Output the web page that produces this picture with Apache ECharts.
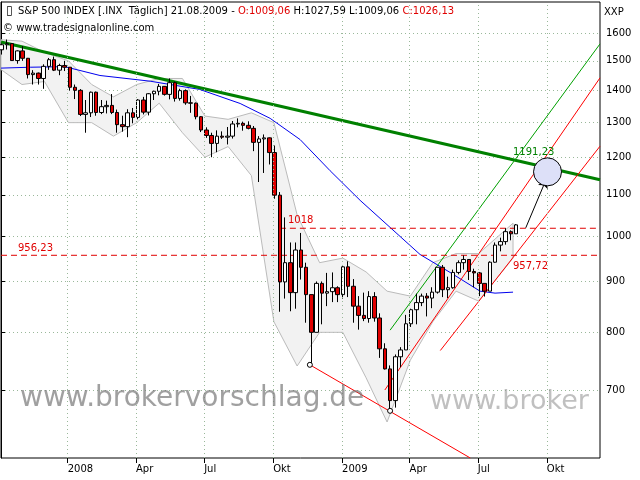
<!DOCTYPE html>
<html><head><meta charset="utf-8">
<script src="https://cdn.jsdelivr.net/npm/echarts@6/dist/echarts.min.js"></script>
<style>html,body{margin:0;padding:0;background:#fff}#c{width:640px;height:480px}</style>
</head><body><div id="c"></div>
<script>
const startDate = '2007-10-05';
const closes = [1557,1561,1501,1535,1509,1453,1458,1440,1481,1504,1468,1484,1478,
1411,1401,1325,1330,1395,1331,1349,1353,1331,1294,1288,1330,1316,1370,1332,1390,1398,1414,1388,1426,1375,1400,1361,1360,1318,1278,1262,1239,1260,1257,1260,1296,1298,1292,1283,1242,1252,1255,1213,1099,899,940,877,968,930,873,800,896,876,879,887,873,
931,890,850,832,826,869,827,770,735,683,756,768,816,843,857,870,866,878,930,883,887,919,940,947,921,918,896,880,941,979,987,1010,1005,1026];
const highs = [1562,1576,1563,1537,1552,1510,1468,1460,1488,1510,1515,1490,1500,
1472,1420,1405,1370,1397,1397,1370,1368,1389,1340,1321,1341,1345,1373,1380,1392,1400,1422,1415,1440,1430,1406,1404,1383,1362,1320,1286,1270,1277,1274,1287,1305,1313,1303,1304,1290,1260,1265,1256,1233,1107,1044,985,985,1007,940,873,900,900,918,919,890,
935,943,905,870,877,880,878,836,780,741,760,773,833,845,875,875,876,888,930,935,910,925,945,956,946,927,920,896,943,985,996,1018,1013,1028];
const lows = [1522,1540,1500,1490,1500,1440,1420,1420,1406,1469,1465,1451,1465,
1400,1373,1320,1270,1317,1321,1326,1328,1326,1270,1273,1257,1298,1310,1325,1322,1370,1385,1384,1372,1365,1368,1355,1330,1310,1272,1255,1200,1214,1252,1236,1253,1286,1276,1280,1217,1133,1157,1180,1090,839,865,840,845,904,818,742,815,815,850,858,858,
865,868,818,805,821,818,820,754,734,667,672,738,770,810,815,850,830,846,875,868,866,885,915,925,903,888,870,869,880,940,965,980,990,1008];
const firstOpen = 1539;
const maDays = [0,39,85,132,199,265,319,359,399,439,479,519,559,599,639,659,683];
const maVals = [1475,1478,1480,1450,1431,1404,1359,1313,1250,1163,1086,1020,958,919,880,876,878];
const bandDays = [0,28,58,90,121,150,181,211,242,272,303,334,364,395,425,456,487,515,546,576,607,637,683];
const bandUp = [1575,1570,1530,1500,1420,1380,1420,1440,1440,1320,1310,1330,1300,1050,940,950,920,880,870,940,960,960,1030];
const bandLo = [1470,1420,1430,1300,1300,1260,1300,1360,1270,1200,1230,1150,820,740,800,800,720,650,750,820,880,860,950];
const greenTrend = [[0,1567],[799,1139]];
const greenThin = [[519,804],[799,1560]];
const redDown = [[412,742],[626,598]];
const redMid = [[512,700],[799,1442]];
const redRight = [[586,767],[799,1231]];
const level1018 = [[372,1018],[799,1018]];
const level956 = [[0,956.23],[799,956.23]];
const arrowLine = [[700,1019],[727,1139]];
const target = [729,1160];
const lowMarks = [[412,742],[519,667]];
const yTicks = [700,800,900,1000,1100,1200,1300,1400,1500,1600];
const xTickDays = [89,180,271,363,455,545,636,728];
const xTickLabels = ['2008','Apr','Jul','Okt','2009','Apr','Jul','Okt'];

const L = Math.log;
const t0 = Date.UTC(2007,9,4);
const s0 = Date.parse(startDate+'T00:00:00Z');
let prev = firstOpen;
const candles = closes.map((c,i)=>{
  const d = (s0 + i*7*86400000 - t0)/86400000;
  const o = prev; prev = c;
  const lo = Math.min(lows[i],o,c), hi = Math.max(highs[i],o,c);
  return [d, L(o), L(c), L(lo), L(hi)];
});
const lg = a => a.map(p=>[p[0], L(p[1])]);
const lineS = (data,color,width,type) => ({type:'line',data:lg(data),symbol:'none',silent:true,lineStyle:{color,width,type:type||'solid'},z:3});
const bandData = bandDays.map((d,i)=>[d,L(bandUp[i]),L(bandLo[i])]);

const chart = echarts.init(document.getElementById('c'));
chart.setOption({
  animation:false,
  grid:{left:1,right:40,top:2,bottom:22,show:true,borderColor:'#000',borderWidth:1,backgroundColor:'#fff'},
  xAxis:{type:'value',min:0,max:799,axisLine:{show:false},splitLine:{show:false},
    axisTick:{show:true,customValues:xTickDays,length:5,lineStyle:{color:'#000'}},
    axisLabel:{customValues:xTickDays,formatter:v=>xTickLabels[xTickDays.indexOf(v)]||'',align:'left',color:'#000',fontFamily:'DejaVu Sans',fontSize:10,margin:6}},
  yAxis:{type:'value',position:'right',min:L(598),max:L(1719),axisLine:{show:true,lineStyle:{color:'#000'}},
    splitLine:{show:true,lineStyle:{color:'#9ab89a',type:[1,3]}},
    axisTick:{show:true,customValues:yTicks.map(L),length:4,lineStyle:{color:'#000'}},
    axisLabel:{customValues:yTicks.map(L),formatter:v=>Math.round(Math.exp(v)),color:'#000',fontFamily:'DejaVu Sans',fontSize:10,margin:6}},
  graphic:[
    {type:'text',left:6,top:5,style:{text:'▯',fill:'#000',font:'12px DejaVu Sans'}},
    {type:'text',left:18,top:6,style:{rich:{a:{fill:'#000',font:'10px DejaVu Sans'},r:{fill:'#e00000',font:'10px DejaVu Sans'}},
      text:'{a|S&P 500 INDEX [.INX  Täglich] 21.08.2009 - }{r|O:1009,06}{a| H:1027,59 L:1009,06 }{r|C:1026,13}'}},
    {type:'text',left:3,top:23,style:{text:'© www.tradesignalonline.com',fill:'#000',font:'10px DejaVu Sans'}},
    {type:'text',left:604,top:7,style:{text:'XXP',fill:'#000',font:'10px DejaVu Sans'}},
    {type:'text',left:20,top:385,z:10,style:{text:'www.brokervorschlag.de',fill:'rgba(120,120,120,0.7)',font:'28px DejaVu Sans'}},
    {type:'text',left:430,top:388,z:10,style:{text:'www.broker',fill:'rgba(150,150,150,0.6)',font:'27px DejaVu Sans'}},
    {type:'text',left:288,top:215,z:10,style:{text:'1018',fill:'#e00000',font:'10px DejaVu Sans'}},
    {type:'text',left:18,top:243,z:10,style:{text:'956,23',fill:'#e00000',font:'10px DejaVu Sans'}},
    {type:'text',left:513,top:261,z:10,style:{text:'957,72',fill:'#e00000',font:'10px DejaVu Sans'}},
    {type:'text',left:513,top:147,z:10,style:{text:'1191,23',fill:'#008000',font:'10px DejaVu Sans'}}
  ],
  series:[
    {type:'custom',z:1,silent:true,data:bandData,encode:{x:0,y:[1,2]},
      renderItem:(params,api)=>{
        if(params.dataIndex!==0) return null;
        const up=bandData.map(p=>api.coord([p[0],p[1]]));
        const lo=bandData.map(p=>api.coord([p[0],p[2]])).reverse();
        return {type:'polygon',shape:{points:up.concat(lo)},style:{fill:'#f2f2f2',stroke:'#bbbbbb',lineWidth:1}};
      },
      markLine:{silent:true,symbol:'none',label:{show:false},lineStyle:{color:'#9ab89a',type:[1,3],width:1},data:xTickDays.map(d=>({xAxis:d}))}},
    lineS(maDays.map((d,i)=>[d,maVals[i]]),'#0000ee',1),
    {type:'candlestick',data:candles,encode:{x:0,y:[1,2,3,4]},barWidth:4,z:4,
      itemStyle:{color:'#ffffff',color0:'#e00000',borderColor:'#000',borderColor0:'#000',borderWidth:1}},
    lineS(greenTrend,'#008000',3),
    lineS(greenThin,'#00a000',1),
    lineS(redDown,'#ff0000',1),
    lineS(redMid,'#ff0000',1),
    lineS(redRight,'#ff0000',1),
    lineS(level1018,'#e00000',1,[6,4]),
    lineS(level956,'#e00000',1,[6,4]),
    {type:'line',data:[],markLine:{silent:true,symbol:['none','arrow'],symbolSize:8,label:{show:false},lineStyle:{color:'#000',width:1,type:'solid'},
      data:[[{coord:[arrowLine[0][0],L(arrowLine[0][1])]},{coord:[arrowLine[1][0],L(arrowLine[1][1])]}]]},z:5},
    {type:'scatter',data:[[target[0],L(target[1])]],symbolSize:28,itemStyle:{color:'#dde0f8',borderColor:'#000',borderWidth:1,opacity:1},z:6},
    {type:'scatter',data:lg(lowMarks),symbolSize:5,itemStyle:{color:'#fff',borderColor:'#000',borderWidth:1,opacity:1},z:6}
  ]
});
</script></body></html>
